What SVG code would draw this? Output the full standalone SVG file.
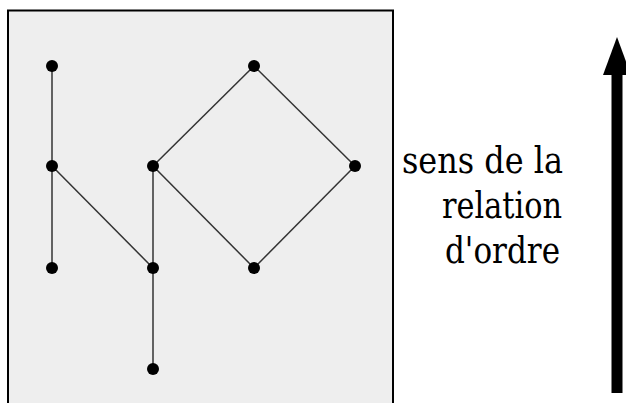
<svg xmlns="http://www.w3.org/2000/svg" width="626" height="403" viewBox="0 0 626 403">
<style>
.edge{stroke:#333;stroke-width:1.5;fill:none}
.node{fill:#000}
.lbl{font-size:37px;fill:#000;text-anchor:end}
</style>
<rect x="0" y="0" width="626" height="403" fill="#fff"/>
<rect id="frame" x="8" y="10.5" width="385" height="400" fill="#eeeeee" stroke="#000" stroke-width="2"/>
<g id="connectors">
<line class="edge" x1="52" y1="66" x2="52" y2="166"/>
<line class="edge" x1="52" y1="166" x2="52" y2="268"/>
<line class="edge" x1="52" y1="166" x2="153" y2="268"/>
<line class="edge" x1="153" y1="166" x2="153" y2="268"/>
<line class="edge" x1="153" y1="268" x2="153" y2="369"/>
<line class="edge" x1="153" y1="166" x2="254" y2="66"/>
<line class="edge" x1="254" y1="66" x2="355" y2="166"/>
<line class="edge" x1="355" y1="166" x2="254" y2="268"/>
<line class="edge" x1="254" y1="268" x2="153" y2="166"/>
</g>
<g id="n1"><circle class="node" cx="52" cy="66" r="6"/></g>
<g id="n2"><circle class="node" cx="52" cy="166" r="6"/></g>
<g id="n3"><circle class="node" cx="52" cy="268" r="6"/></g>
<g id="n4"><circle class="node" cx="153" cy="166" r="6"/></g>
<g id="n5"><circle class="node" cx="153" cy="268" r="6"/></g>
<g id="n6"><circle class="node" cx="153" cy="369" r="6"/></g>
<g id="n7"><circle class="node" cx="254" cy="66" r="6"/></g>
<g id="n8"><circle class="node" cx="355" cy="166" r="6"/></g>
<g id="n9"><circle class="node" cx="254" cy="268" r="6"/></g>
<g id="label" font-family="'DejaVu Serif', serif">
<text class="lbl" x="563" y="173" textLength="161" lengthAdjust="spacingAndGlyphs">sens de la</text>
<text class="lbl" x="562" y="218" textLength="120" lengthAdjust="spacingAndGlyphs">relation</text>
<text class="lbl" x="560" y="263" textLength="115" lengthAdjust="spacingAndGlyphs">d'ordre</text>
</g>
<g id="arrow">
<rect x="611.5" y="74" width="11" height="319" fill="#000"/>
<polygon points="617,37 603,75 631,75" fill="#000"/>
</g>
</svg>
